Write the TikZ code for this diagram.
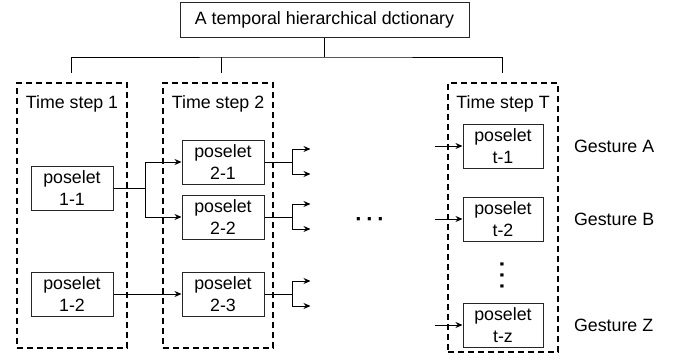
\documentclass[tikz,border=0pt]{standalone}
\usepackage{fontspec}
\setmainfont{Liberation Sans}
\usetikzlibrary{arrows.meta,calc,positioning}
\tikzset{
  pbox/.style={draw=black!85, line width=1pt, minimum width=82pt, minimum height=44pt, inner sep=1pt, align=center},
  frame/.style={draw, line width=1.8pt, dash pattern=on 6pt off 4pt, minimum width=110pt, inner sep=0pt},
  wire/.style={line width=1pt},
  arrow/.style={-{Stealth[length=7pt,width=6pt]}, line width=1pt}
}

\begin{document}
\begin{tikzpicture}[x=1pt, y=-1pt, font=\fontsize{17.8}{21.5}\selectfont]
    \useasboundingbox (0,0) rectangle (675,356);

    % Dictionary
    \node[draw=black!85, line width=1pt, minimum width=289pt, minimum height=35pt] (dict) at (324.5,19.5) {A temporal hierarchical dctionary};

    % Time step frames
    \node[frame, minimum height=265pt] (ts1) at (72,215.5) {};
    \node[frame, minimum height=265pt] (ts2) at (218,215.5) {};
    \node[frame, minimum height=269pt] (tsT) at (503,217.5) {};
    \node (lab1) at ($(ts1.north)+(0,22)$) {Time step 1};
    \node (lab2) at ($(ts2.north)+(0,22)$) {Time step 2};
    \node (labT) at ($(tsT.north)+(0,22)$) {Time step T};

    % Tree
    \coordinate (bus) at (324.5,57);
    \coordinate (d1) at (71,73);
    \coordinate (d2) at (221,73);
    \coordinate (d3) at (502,73);
    \draw[wire] (dict.south) -- (bus);
    \draw[wire] (d1) |- (bus) -| (d3);
    \draw[wire] (d2) -- (d2 |- bus);

    % Time step 1
    \node[pbox] (p11) at (72,188) {poselet\\1-1};
    \node[pbox] (p12) at (72,294) {poselet\\1-2};

    % Time step 2
    \node[pbox] (p21) at (223,162) {poselet\\2-1};
    \node[pbox] (p22) at (223,217) {poselet\\2-2};
    \node[pbox] (p23) at (223,294) {poselet\\2-3};

    \draw[arrow] (p11.east) -- ++(32,0) |- (p21.west);
    \draw[arrow] (p11.east) -- ++(32,0) |- (p22.west);
    \draw[arrow] (p12) -- (p23);

    \foreach \p in {p21,p22,p23} {
        \coordinate (\p-hi) at ($(\p.east)+(46,-13)$);
        \coordinate (\p-lo) at ($(\p.east)+(46,12)$);
        \draw[arrow] (\p.east) -- ++(28,0) |- (\p-hi);
        \draw[arrow] (\p.east) -- ++(28,0) |- (\p-lo);
    }

    \node[font=\fontsize{22}{24}\selectfont\bfseries] (hdots) at (370,222) {·\,·\,·};

    % Time step T
    \node[pbox, minimum width=80pt] (pt1) at (503,146) {poselet\\t-1};
    \node[pbox, minimum width=80pt] (pt2) at (503,219) {poselet\\t-2};
    \node[pbox, minimum width=80pt] (ptz) at (503,325) {poselet\\t-z};
    \node[rotate=90, font=\fontsize{22}{24}\selectfont\bfseries] (vdots) at (505,275) {·\,·\,·};

    \foreach \p in {pt1,pt2,ptz} {
        \coordinate (\p-in) at ($(\p.west)+(-28,0)$);
        \draw[arrow] (\p-in) -- (\p.west);
    }

    % Gestures
    \node[right=27pt of pt1] (gA) {Gesture A};
    \node[right=27pt of pt2] (gB) {Gesture B};
    \node[right=27pt of ptz] (gZ) {Gesture Z};

\end{tikzpicture}
\end{document}
